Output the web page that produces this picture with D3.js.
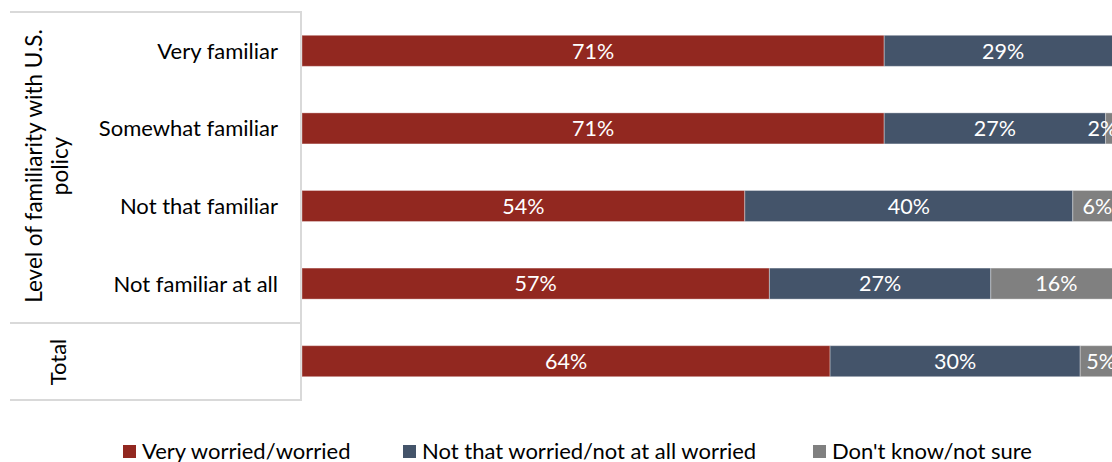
<!DOCTYPE html>
<html>
<head>
<meta charset="utf-8">
<script src="https://cdn.jsdelivr.net/npm/d3@7"></script>
<style>
  html, body { margin: 0; padding: 0; background: #fff; }
  svg { display: block; font-family: Lato, "Open Sans", sans-serif; }
</style>
</head>
<body>
<svg id="chart" width="1112" height="462"></svg>
<script>
const categories = ["Very familiar", "Somewhat familiar", "Not that familiar", "Not familiar at all", "Total"];
const seriesNames = ["Very worried/worried", "Not that worried/not at all worried", "Don't know/not sure"];
const worried = [71, 71, 54, 57, 64.4];
const notWorried = [29, 27, 40, 27, 30.5];
const dontKnow = [0, 2, 6, 16, 5.1];
const labelsWorried = ["71%", "71%", "54%", "57%", "64%"];
const labelsNotWorried = ["29%", "27%", "40%", "27%", "30%"];
const labelsDontKnow = ["", "2%", "6%", "16%", "5%"];
const groupTitles = ["Level of familiarity with U.S.", "policy"];
const totalTitle = "Total";
const colors = ["#922820", "#44546a", "#808080"];

const svg = d3.select("#chart");

const x = d3.scaleLinear().domain([0, 100]).range([302, 1122]);
const y = d3.scaleBand().domain(categories).range([12, 400]).paddingInner(0.6).paddingOuter(0.3);

const valuesBySeries = [worried, notWorried, dontKnow];
const labelsBySeries = [labelsWorried, labelsNotWorried, labelsDontKnow];

const rows = categories.map((c, i) => {
  let acc = 0;
  return valuesBySeries.map((vals, s) => {
    const seg = { cat: c, s, x0: acc, x1: acc + vals[i], label: labelsBySeries[s][i] };
    acc += vals[i];
    return seg;
  });
});
const segs = rows.flat().filter(d => d.x1 > d.x0);

// frame lines
const lineColor = "#d9d9d9";
const frame = svg.append("g").attr("stroke", lineColor).attr("stroke-width", 2).attr("fill", "none");
frame.append("line").attr("x1", 10).attr("x2", 301).attr("y1", 12).attr("y2", 12);
frame.append("line").attr("x1", 10).attr("x2", 301).attr("y1", 323).attr("y2", 323);
frame.append("line").attr("x1", 10).attr("x2", 301).attr("y1", 400).attr("y2", 400);
frame.append("line").attr("x1", 301).attr("x2", 301).attr("y1", 11).attr("y2", 401);

// bars
svg.append("g").selectAll("rect").data(segs).join("rect")
  .attr("x", d => x(d.x0))
  .attr("width", d => x(d.x1) - x(d.x0))
  .attr("y", d => y(d.cat))
  .attr("height", y.bandwidth())
  .attr("fill", d => colors[d.s])
  .attr("stroke", "rgba(255,255,255,0.35)")
  .attr("stroke-width", 1);

// data labels (nudged inward when the segment runs past the visible area)
const maxLabelX = x(97.6);
svg.append("g").selectAll("text").data(segs.filter(d => d.label)).join("text")
  .attr("x", d => Math.min((x(d.x0) + x(d.x1)) / 2, maxLabelX))
  .attr("y", d => y(d.cat) + y.bandwidth() / 2)
  .attr("dy", "0.36em")
  .attr("text-anchor", "middle")
  .attr("fill", "#fff")
  .attr("font-size", 21.5)
  .text(d => d.label);

// category labels
svg.append("g").selectAll("text").data(categories.slice(0, 4)).join("text")
  .attr("x", 278)
  .attr("y", d => y(d) + y.bandwidth() / 2)
  .attr("dy", "0.36em")
  .attr("text-anchor", "end")
  .attr("fill", "#000")
  .attr("font-size", 22)
  .text(d => d);

// group titles (rotated)
const gt = svg.append("text")
  .attr("transform", "translate(0,166) rotate(-90)")
  .attr("text-anchor", "middle")
  .attr("font-size", 22.5)
  .attr("fill", "#000");
gt.append("tspan").attr("x", 0).attr("y", 42).text(groupTitles[0]);
gt.append("tspan").attr("x", 0).attr("y", 68).text(groupTitles[1]);

svg.append("text")
  .attr("transform", "translate(66,362) rotate(-90)")
  .attr("text-anchor", "middle")
  .attr("font-size", 22)
  .attr("fill", "#000")
  .text(totalTitle);

// legend
const legendX = [123, 403, 813];
const lg = svg.append("g").selectAll("g").data(seriesNames).join("g")
  .attr("transform", (d, i) => `translate(${legendX[i]},445)`);
lg.append("rect").attr("width", 13).attr("height", 13).attr("fill", (d, i) => colors[i]);
lg.append("text").attr("x", 19).attr("y", 14).attr("font-size", 22).attr("fill", "#000").text(d => d);
</script>
</body>
</html>
